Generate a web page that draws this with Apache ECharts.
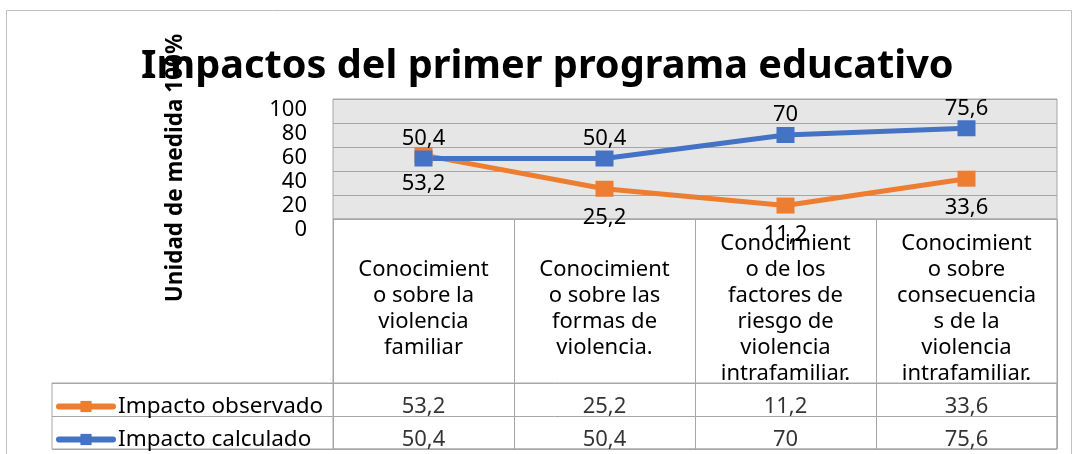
<!DOCTYPE html>
<html>
<head>
<meta charset="utf-8">
<script src="https://cdn.jsdelivr.net/npm/echarts@6/dist/echarts.min.js"></script>
<style>
  html, body { margin: 0; padding: 0; background: #fff; }
  #chart { width: 1078px; height: 454px; }
</style>
</head>
<body>
<div id="chart"></div>
<script>
// datos
const categories = [
  'Conocimient\no sobre la\nviolencia\nfamiliar',
  'Conocimient\no sobre las\nformas de\nviolencia.',
  'Conocimient\no de los\nfactores de\nriesgo de\nviolencia\nintrafamiliar.',
  'Conocimient\no sobre\nconsecuencia\ns de la\nviolencia\nintrafamiliar.'
];
const seriesNames = ['Impacto observado', 'Impacto calculado'];
const observado = [53.2, 25.2, 11.2, 33.6];
const calculado = [50.4, 50.4, 70, 75.6];
const yTicks = [0, 20, 40, 60, 80, 100];

const fmt = v => String(v).replace('.', ',');
const font = 'Noto Sans';
const gridLine = '#a6a6a6';
const colors = ['#ED7D31', '#4472C4'];

// celdas de la tabla de datos
const cells = [];
[observado, calculado].forEach((arr, r) => {
  arr.forEach((v, c) => cells.push([c, seriesNames[r], v]));
});

// una leyenda por fila de la tabla
const legends = seriesNames.map((name, i) => ({
  left: 51,
  top: 390 + i * 33,
  itemWidth: 54,
  itemHeight: 14,
  itemGap: 7,
  data: [name],
  lineStyle: { width: 6, cap: 'round' },
  textStyle: { fontFamily: font, fontSize: 22.5, color: '#000', padding: [8, 0, 0, 0] }
}));

const chart = echarts.init(document.getElementById('chart'));
chart.setOption({
  textStyle: { fontFamily: font, color: '#000' },
  animation: false,
  title: {
    text: 'Impactos del primer programa educativo',
    left: 136,
    top: 42,
    textStyle: { fontFamily: font, fontSize: 39.7, fontWeight: 'bold', color: '#000' }
  },
  graphic: [{
    type: 'rect',
    shape: { x: 6.5, y: 10.5, width: 1065, height: 470 },
    style: { fill: 'none', stroke: '#c0c0c0', lineWidth: 1 },
    silent: true
  }],
  legend: legends,
  grid: [
    { left: 333, right: 21, top: 99, height: 120, show: true, backgroundColor: '#e7e6e6', borderColor: gridLine },
    { left: 333, right: 21, top: 219, height: 230, show: true, borderColor: gridLine },
    { left: 52, right: 21, top: 383, height: 66, show: true, borderColor: gridLine },
    { left: 333, right: 21, top: 383, height: 66 }
  ],
  xAxis: [
    {
      type: 'category', gridIndex: 0, data: categories,
      axisLine: { show: false }, axisTick: { show: false },
      axisLabel: {
        interval: 0, margin: 90, verticalAlign: 'middle',
        fontSize: 22, lineHeight: 26, color: '#000', fontFamily: font
      }
    },
    {
      type: 'category', gridIndex: 1, data: categories,
      axisLine: { show: false }, axisTick: { show: false }, axisLabel: { show: false },
      splitLine: { show: true, lineStyle: { color: gridLine } }
    },
    { type: 'value', gridIndex: 2, show: false },
    { type: 'category', gridIndex: 3, data: categories.map((_, i) => i), show: false }
  ],
  yAxis: [
    {
      type: 'value', gridIndex: 0, min: 0, max: 100, interval: 20,
      name: 'Unidad de medida 100%',
      nameLocation: 'middle', nameGap: 146, nameRotate: 90,
      nameTextStyle: { fontFamily: font, fontSize: 22.5, fontWeight: 'bold', color: '#000', padding: [0, 18, 0, 0] },
      axisLine: { show: false }, axisTick: { show: false },
      axisLabel: { margin: 26, fontSize: 22, color: '#000', verticalAlign: 'top', lineHeight: 22, fontFamily: font },
      splitLine: { lineStyle: { color: gridLine } }
    },
    { type: 'value', gridIndex: 1, show: false },
    {
      type: 'category', gridIndex: 2, data: seriesNames, inverse: true,
      axisLine: { show: false }, axisTick: { show: false }, axisLabel: { show: false },
      splitLine: { show: true, lineStyle: { color: gridLine } }
    },
    { type: 'category', gridIndex: 3, data: seriesNames, inverse: true, show: false }
  ],
  series: [
    {
      name: seriesNames[0], type: 'line', data: observado,
      xAxisIndex: 0, yAxisIndex: 0,
      color: colors[0], lineStyle: { width: 5 },
      symbol: 'rect', symbolSize: [18, 16],
      label: { show: true, position: 'bottom', distance: 10, fontSize: 22, color: '#000', formatter: p => fmt(p.value) }
    },
    {
      name: seriesNames[1], type: 'line', data: calculado,
      xAxisIndex: 0, yAxisIndex: 0,
      color: colors[1], lineStyle: { width: 5 },
      symbol: 'rect', symbolSize: [18, 16],
      label: { show: true, position: 'top', distance: 1, fontSize: 22, color: '#000', formatter: p => fmt(p.value) }
    },
    {
      type: 'scatter', xAxisIndex: 3, yAxisIndex: 3, data: cells,
      symbolSize: 0, silent: true,
      label: {
        show: true, position: 'inside', offset: [0, 7], fontSize: 22, color: '#000',
        formatter: p => fmt(p.value[2])
      }
    }
  ]
});
</script>
</body>
</html>
